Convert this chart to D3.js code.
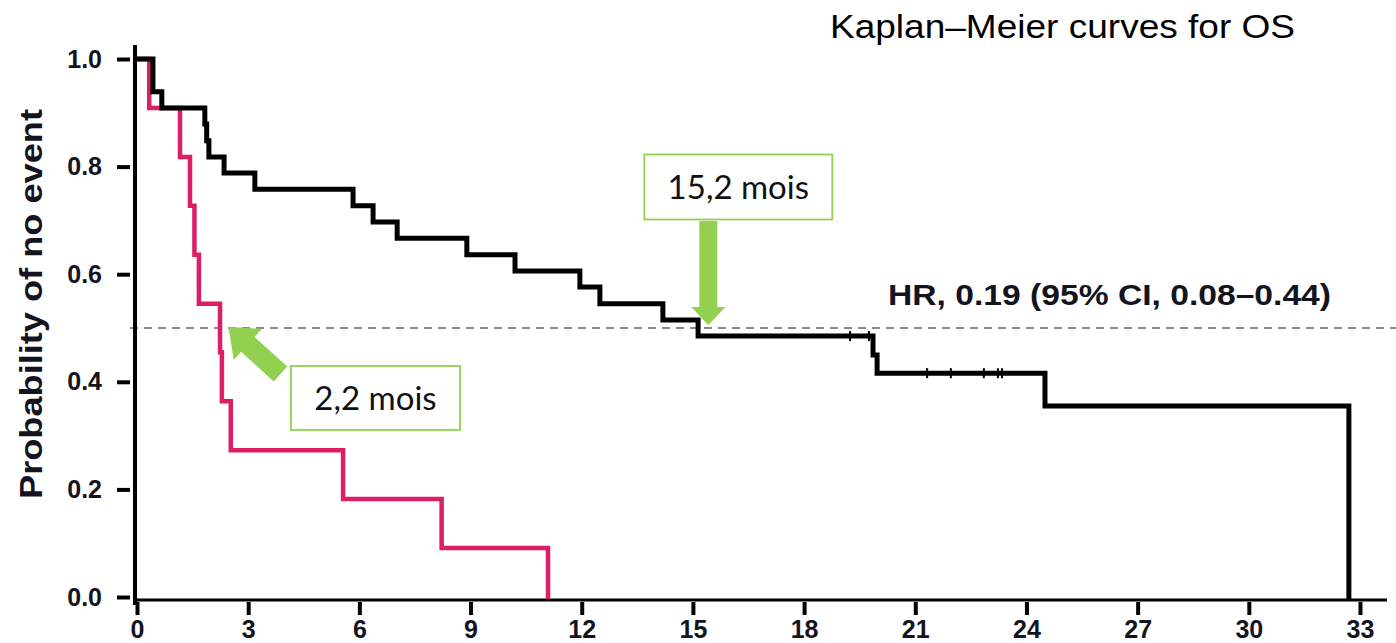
<!DOCTYPE html>
<html>
<head>
<meta charset="utf-8">
<script src="https://cdn.jsdelivr.net/npm/d3@7"></script>
<style>
  body { margin: 0; background: #fff; }
  svg { display: block; }
</style>
</head>
<body>
<svg id="chart" width="1396" height="643"></svg>
<script>
// Kaplan–Meier step data (months, survival probability)
const blackTimes = [0, 0.43, 0.67, 1.83, 1.88, 1.94, 2.35, 3.18, 5.83, 6.37, 7.02, 8.90, 10.20, 11.95, 12.49, 14.19, 15.14, 19.86, 19.97, 24.50, 32.70];
const blackSurv  = [1, 0.939, 0.909, 0.879, 0.848, 0.818, 0.788, 0.758, 0.727, 0.697, 0.667, 0.636, 0.606, 0.576, 0.545, 0.515, 0.485, 0.45, 0.416, 0.355, 0];
const blackCensorTimes = [19.24, 19.75, 21.32, 21.96, 22.85, 23.23, 23.34];

const redTimes = [0, 0.33, 1.16, 1.43, 1.55, 1.67, 2.24, 2.29, 2.53, 5.56, 8.22, 11.09];
const redSurv  = [1, 0.909, 0.818, 0.727, 0.636, 0.545, 0.455, 0.364, 0.273, 0.182, 0.091, 0];

const xTicks = [0, 3, 6, 9, 12, 15, 18, 21, 24, 27, 30, 33];
const yTicks = [0, 0.2, 0.4, 0.6, 0.8, 1.0];
const medianLevel = 0.5;
const medianBlack = 15.2;
const medianRed = 2.2;
const blackMedianLabel = "15,2 mois";
const redMedianLabel = "2,2 mois";
const titleText = "Kaplan–Meier curves for OS";
const hrText = "HR, 0.19 (95% CI, 0.08–0.44)";
const yTitleText = "Probability of no event";

const svg = d3.select("#chart");
const x = d3.scaleLinear().domain([0, 33]).range([137, 1360]);
const y = d3.scaleLinear().domain([0, 1]).range([597, 59]);

const AX = 135;   // y-axis line position
const AY = 600;   // x-axis line position
const green = "#92d050";
const red = "#dc1f64";
const sans = "Liberation Sans, Arial, sans-serif";

// reference line at 50 %
svg.append("line")
  .attr("x1", 130).attr("x2", 1396)
  .attr("y1", y(medianLevel)).attr("y2", y(medianLevel))
  .attr("stroke", "#8a8a8a").attr("stroke-width", 2)
  .attr("stroke-dasharray", "8,6");

// axes
const yAxis = d3.axisLeft(y).tickValues(yTicks).tickFormat(d3.format(".1f"))
  .tickSize(13).tickPadding(15);
const gy = svg.append("g").attr("transform", `translate(${AX - 5},0)`).call(yAxis);
gy.select(".domain").remove();
gy.selectAll(".tick line").attr("stroke", "#000").attr("stroke-width", 4);
gy.selectAll(".tick text")
  .attr("fill", "#14141e").style("font-family", sans)
  .style("font-weight", "bold").style("font-size", "25px");

const xAxis = d3.axisBottom(x).tickValues(xTicks).tickFormat(d3.format("d"))
  .tickSize(13).tickPadding(5);
const gx = svg.append("g").attr("transform", `translate(0,${AY + 2})`).call(xAxis);
gx.select(".domain").remove();
gx.selectAll(".tick line").attr("stroke", "#000").attr("stroke-width", 4);
gx.selectAll(".tick text")
  .attr("fill", "#14141e").style("font-family", sans)
  .style("font-weight", "bold").style("font-size", "25px");

svg.append("line").attr("x1", AX).attr("x2", AX).attr("y1", 45).attr("y2", 605)
  .attr("stroke", "#000").attr("stroke-width", 4);
svg.append("line").attr("x1", AX - 2).attr("x2", 1387).attr("y1", AY).attr("y2", AY)
  .attr("stroke", "#000").attr("stroke-width", 3);

// step curves
const step = d3.line().x(d => x(d[0])).y(d => y(d[1])).curve(d3.curveStepAfter);
const blackData = d3.zip(blackTimes, blackSurv);
const redData = d3.zip(redTimes, redSurv);
svg.append("path").datum(redData)
  .attr("d", step).attr("fill", "none").attr("stroke", red).attr("stroke-width", 4.5)
  .attr("stroke-linejoin", "miter").attr("stroke-linecap", "square");
svg.append("path").datum(blackData)
  .attr("d", step).attr("fill", "none").attr("stroke", "#000").attr("stroke-width", 5)
  .attr("stroke-linejoin", "miter").attr("stroke-linecap", "square");

// censor marks on the black curve
const survAt = t => blackSurv[d3.bisectRight(blackTimes, t) - 1];
svg.append("g").selectAll("line").data(blackCensorTimes).join("line")
  .attr("x1", d => x(d)).attr("x2", d => x(d))
  .attr("y1", d => y(survAt(d)) - 5).attr("y2", d => y(survAt(d)) + 5)
  .attr("stroke", "#000").attr("stroke-width", 2);

// title and hazard ratio
svg.append("text").attr("x", 830).attr("y", 38)
  .attr("textLength", 465).attr("lengthAdjust", "spacingAndGlyphs")
  .style("font-family", sans).style("font-size", "33px")
  .attr("fill", "#000").text(titleText);
svg.append("text").attr("x", 888).attr("y", 305)
  .attr("textLength", 443).attr("lengthAdjust", "spacingAndGlyphs")
  .style("font-family", sans).style("font-size", "29px")
  .style("font-weight", "bold").attr("fill", "#14141e").text(hrText);

// y-axis title
svg.append("text")
  .attr("transform", "translate(42,304) rotate(-90)")
  .attr("text-anchor", "middle")
  .attr("textLength", 390).attr("lengthAdjust", "spacingAndGlyphs")
  .style("font-family", sans).style("font-size", "31px")
  .style("font-weight", "bold").attr("fill", "#14141e").text(yTitleText);

// median annotations
function callout(cx, cy, w, h, label) {
  svg.append("rect").attr("x", cx - w / 2).attr("y", cy - h / 2)
    .attr("width", w).attr("height", h)
    .attr("fill", "#fff").attr("stroke", green).attr("stroke-width", 1.8);
  svg.append("text").attr("x", cx).attr("y", cy + 12).attr("text-anchor", "middle")
    .style("font-family", "Lato, 'Open Sans', sans-serif").style("font-size", "33px")
    .attr("fill", "#111").text(label);
}

// arrow polygon from tail to tip
function arrow(tail, tip, shaftW, headW, headL) {
  const dx = tip[0] - tail[0], dy = tip[1] - tail[1];
  const len = Math.hypot(dx, dy);
  const ux = dx / len, uy = dy / len, nx = -uy, ny = ux;
  const p = (a, b) => [tail[0] + ux * a + nx * b, tail[1] + uy * a + ny * b];
  const pts = [p(0, -shaftW / 2), p(len - headL, -shaftW / 2), p(len - headL, -headW / 2),
               p(len, 0), p(len - headL, headW / 2), p(len - headL, shaftW / 2), p(0, shaftW / 2)];
  svg.append("polygon").attr("points", pts.map(d => d.join(",")).join(" ")).attr("fill", green);
}

const bTip = [x(medianBlack) + 8, y(medianLevel) - 3];
arrow([bTip[0], 221], bTip, 18, 34, 18);
callout(bTip[0] + 30, 187, 188, 65, blackMedianLabel);

const rTip = [x(medianRed) + 10, y(medianLevel) - 1];
arrow([rTip[0] + 52, rTip[1] + 47], rTip, 20, 42, 26);
callout(375.5, 398, 169, 64, redMedianLabel);
</script>
</body>
</html>
